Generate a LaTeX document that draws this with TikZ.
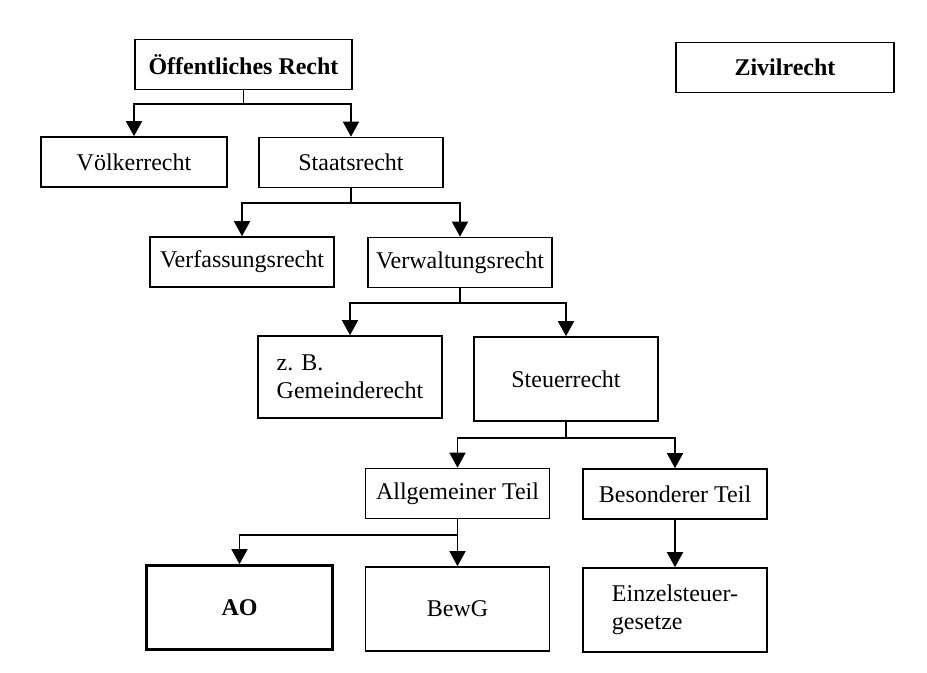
\documentclass[tikz,border=0pt]{standalone}
\usepackage{fontspec}
\setmainfont{Liberation Serif}
\usetikzlibrary{arrows.meta}

\begin{document}
\begin{tikzpicture}[x=0.5pt,y=-0.5pt,
  box/.style={shape=rectangle,draw=black,line width=0.8pt,inner sep=0pt,
    minimum width=92pt,minimum height=25pt,align=left,
    font=\fontsize{12}{14}\selectfont},
  tall/.style={box,minimum height=42pt},
  arr/.style={line width=0.8pt,-{Triangle[width=8pt,length=7.5pt]}}]
\useasboundingbox (0,0) rectangle (927,673);

\node[box,minimum width=108.5pt,font=\bfseries\fontsize{12}{14}\selectfont] (oer) at (243.5,64.5) {Öffentliches Recht};
\node[box,minimum width=109pt,font=\bfseries\fontsize{12}{14}\selectfont] (zivil) at (785,67.5) {Zivilrecht};
\node[box,minimum width=93pt] (voelk) at (134,162) {Völkerrecht};
\node[box] (staats) at (351,162.5) {Staatsrecht};
\node[box] (verf) at (242,262) {Verfassungsrecht};
\node[box] (verw) at (460,262.5) {Verwaltungsrecht};
\node[tall,minimum height=41pt] (gemeinde) at (350,377) {z. B.\\Gemeinderecht};
\node[tall] (steuer) at (566,379) {Steuerrecht};
\node[box] (allg) at (457.5,493.5) {Allgemeiner Teil};
\node[box] (bes) at (675,494) {Besonderer Teil};
\node[tall,minimum width=93pt,line width=1.3pt,font=\bfseries\fontsize{12}{14}\selectfont] (ao) at (239.5,607.5) {AO};
\node[tall] (bewg) at (457.5,609) {BewG};
\node[tall] (einzel) at (675,610) {Einzelsteuer-\\gesetze};

\draw[arr] (oer.south) -- ++(0,14) -| (voelk.north);
\draw[arr] (oer.south) -- ++(0,14) -| (staats.north);
\draw[arr] (staats.south) -- ++(0,15) -| (verf.north);
\draw[arr] (staats.south) -- ++(0,15) -| (verw.north);
\draw[arr] (verw.south) -- ++(0,15) -| (gemeinde.north);
\draw[arr] (verw.south) -- ++(0,15) -| (steuer.north);
\draw[arr] (steuer.south) -- ++(0,16) -| (allg.north);
\draw[arr] (steuer.south) -- ++(0,16) -| (bes.north);
\draw[arr] (allg.south) -- ++(0,16) -| (ao.north);
\draw[arr] (allg.south) -- (bewg.north);
\draw[arr] (bes.south) -- (einzel.north);
\end{tikzpicture}
\end{document}
